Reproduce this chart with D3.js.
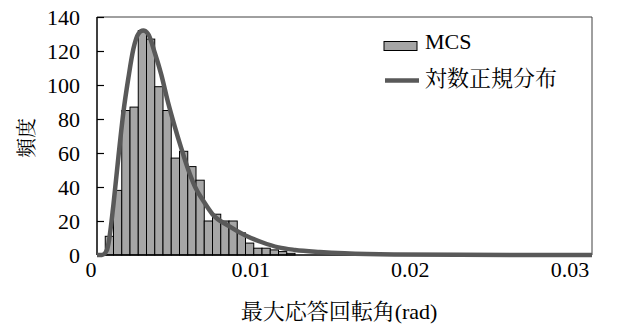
<!DOCTYPE html>
<html>
<head>
<meta charset="utf-8">
<script src="https://cdn.jsdelivr.net/npm/d3@7"></script>
<style>
  body { margin: 0; background: #fff; }
</style>
</head>
<body>
<svg id="chart" width="617" height="329"></svg>
<script>
// histogram bins (lower edge, width 0.0005) and counts
const binWidth = 0.0005;
const binStarts = [0.0005, 0.001, 0.0015, 0.002, 0.0025, 0.003, 0.0035, 0.004, 0.0045, 0.005,
  0.0055, 0.006, 0.0065, 0.007, 0.0075, 0.008, 0.0085, 0.009, 0.0095, 0.01, 0.0105, 0.011, 0.0115];
const counts = [11, 38, 85, 87, 132, 127, 99, 85, 57, 61,
  52, 44, 20, 24, 20, 20, 13, 7, 4, 4, 3, 2, 1];

// lognormal fit curve
const curveX = [0, 0.0003, 0.0006, 0.0007, 0.001, 0.0013, 0.0016, 0.0019, 0.0022, 0.0025,
  0.0028, 0.0031, 0.0035, 0.0039, 0.0043, 0.0047, 0.0051, 0.0055, 0.0059, 0.0065,
  0.007, 0.008, 0.009, 0.01, 0.011, 0.012, 0.0135, 0.015, 0.018, 0.022, 0.03];
const curveY = [0, 0, 3, 7, 30, 58, 84, 104, 121, 130,
  132, 130, 119, 106, 90, 76, 63, 51, 41, 31,
  24, 17, 11.5, 7.5, 4.5, 3, 1.8, 1, 0.3, 0.1, 0];

const xTicks = [0, 0.01, 0.02, 0.03];
const yTicks = [0, 20, 40, 60, 80, 100, 120, 140];

const serif = "'Liberation Serif', 'Times New Roman', serif";
const mixed = "'Liberation Serif', 'Noto Serif CJK JP', 'Noto Sans CJK JP', serif";

const svg = d3.select("#chart");
const plotLeft = 97, plotRight = 592, plotTop = 17, plotBottom = 255;

const x = d3.scaleLinear().domain([0, 0.03]).range([plotLeft, plotRight]);
const y = d3.scaleLinear().domain([0, 140]).range([plotBottom, plotTop]);
// tick labels sit a little left of the data positions in the original
const xLabel = d3.scaleLinear().domain([0, 0.03]).range([91, 570]);

// frame (top / right)
svg.append("path")
  .attr("d", `M${plotLeft},${plotTop}H${plotRight}V${plotBottom}`)
  .attr("fill", "none")
  .attr("stroke", "#404040")
  .attr("stroke-width", 1);

// bars
svg.selectAll(".bar")
  .data(binStarts.map((b, i) => ({ b, c: counts[i] })))
  .enter()
  .append("rect")
  .attr("class", "bar")
  .attr("x", d => x(d.b))
  .attr("y", d => y(d.c))
  .attr("width", d => x(d.b + binWidth) - x(d.b))
  .attr("height", d => y(0) - y(d.c))
  .attr("fill", "#a6a6a6")
  .attr("stroke", "#000")
  .attr("stroke-width", 1);

// y axis with inward ticks
const yAxis = svg.append("g")
  .attr("transform", `translate(${plotLeft},0)`)
  .call(d3.axisRight(y).tickValues(yTicks).tickSize(7).tickFormat(""));
yAxis.select(".domain").attr("stroke", "#000").attr("stroke-width", 1.5)
  .attr("d", `M0,${plotTop}V${plotBottom}`);
yAxis.selectAll(".tick line").attr("stroke", "#000").attr("stroke-width", 1.2);

svg.selectAll(".ylab")
  .data(yTicks)
  .enter()
  .append("text")
  .attr("class", "ylab")
  .attr("x", 80)
  .attr("y", d => y(d) + 7.5)
  .attr("text-anchor", "end")
  .attr("font-family", serif)
  .attr("font-size", 22)
  .text(d => d);

// x axis line
svg.append("line")
  .attr("x1", plotLeft).attr("x2", plotRight)
  .attr("y1", plotBottom).attr("y2", plotBottom)
  .attr("stroke", "#000")
  .attr("stroke-width", 1.5);

svg.selectAll(".xlab")
  .data(xTicks)
  .enter()
  .append("text")
  .attr("class", "xlab")
  .attr("x", d => xLabel(d))
  .attr("y", 277)
  .attr("text-anchor", "middle")
  .attr("font-family", serif)
  .attr("font-size", 22)
  .text(d => d === 0 ? "0" : d3.format(".2f")(d));

// lognormal curve
const line = d3.line()
  .x(d => x(d[0]))
  .y(d => y(d[1]))
  .curve(d3.curveMonotoneX);

svg.append("path")
  .datum(curveX.map((v, i) => [v, curveY[i]]))
  .attr("d", line)
  .attr("fill", "none")
  .attr("stroke", "#595959")
  .attr("stroke-width", 4.5);

// axis titles
svg.append("text")
  .attr("x", 339)
  .attr("y", 319)
  .attr("text-anchor", "middle")
  .attr("font-family", mixed)
  .attr("font-size", 22)
  .text("最大応答回転角(rad)");

svg.append("text")
  .attr("transform", "translate(34,138) rotate(-90)")
  .attr("text-anchor", "middle")
  .attr("font-family", mixed)
  .attr("font-size", 20)
  .text("頻度");

// legend
const legend = svg.append("g");
legend.append("rect")
  .attr("x", 384).attr("y", 41.5)
  .attr("width", 33).attr("height", 9)
  .attr("fill", "#a6a6a6")
  .attr("stroke", "#000")
  .attr("stroke-width", 1);
legend.append("text")
  .attr("x", 425).attr("y", 48.5)
  .attr("font-family", serif)
  .attr("font-size", 22)
  .text("MCS");
legend.append("line")
  .attr("x1", 385).attr("x2", 419)
  .attr("y1", 80.5).attr("y2", 80.5)
  .attr("stroke", "#595959")
  .attr("stroke-width", 4.5);
legend.append("text")
  .attr("x", 425).attr("y", 86)
  .attr("font-family", mixed)
  .attr("font-size", 22)
  .text("対数正規分布");
</script>
</body>
</html>
